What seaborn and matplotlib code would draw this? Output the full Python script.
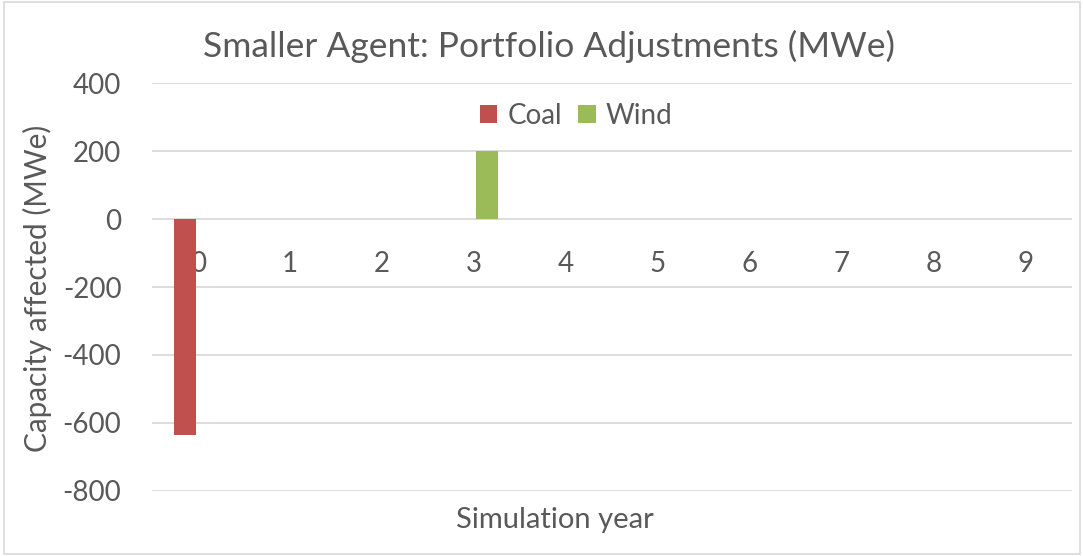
import matplotlib
matplotlib.use("Agg")
import matplotlib.pyplot as plt
import seaborn as sns
import pandas as pd
from matplotlib.patches import Rectangle, Patch

years = [0, 1, 2, 3, 4, 5, 6, 7, 8, 9]
coal = [-635, 0, 0, 0, 0, 0, 0, 0, 0, 0]
wind = [0, 0, 0, 200, 0, 0, 0, 0, 0, 0]
series_names = ["Coal", "Wind"]
colors = ["#C0504D", "#9BBB59"]
y_ticks = [-800, -600, -400, -200, 0, 200, 400]

df = pd.DataFrame({
    "year": [str(y) for y in years] * 2,
    "value": coal + wind,
    "source": ["Coal"] * len(years) + ["Wind"] * len(years),
})

sns.set_theme(style="white")
plt.rcParams["font.family"] = ["Lato", "DejaVu Sans"]
text_color = "#595959"

fig = plt.figure(figsize=(10.83, 5.56), dpi=100)
ax = fig.add_axes([0.1404, 0.1174, 0.849, 0.7328])

sns.barplot(data=df, x="year", y="value", hue="source", palette=colors,
            saturation=1, width=0.56, gap=0.15, linewidth=0, ax=ax, legend=False)

ax.set_ylim(-800, 400)
ax.set_xlim(-0.5, 9.5)
ax.set_yticks(y_ticks)
ax.set_yticklabels([str(t) for t in y_ticks])
ax.yaxis.grid(True, color="#d9d9d9", linewidth=1.3)
ax.set_axisbelow(True)
for s in ax.spines.values():
    s.set_visible(False)
ax.spines["bottom"].set_position(("data", 0))
ax.tick_params(axis="x", length=0, pad=23, labelsize=20, colors=text_color)
ax.tick_params(axis="y", length=0, pad=22, labelsize=20, colors=text_color)
ax.set_xlabel("")
ax.set_ylabel("")

fig.text(0.035, 0.482, "Capacity affected (MWe)", rotation=90, ha="center", va="center",
         fontsize=21.4, color=text_color)
fig.text(0.5125, 0.065, "Simulation year", ha="center", va="center",
         fontsize=21, color=text_color)
fig.text(0.507, 0.916, "Smaller Agent: Portfolio Adjustments (MWe)", ha="center", va="center",
         fontsize=25.5, color=text_color)

handles = [Patch(facecolor=c, edgecolor="none", label=n) for c, n in zip(colors, series_names)]
leg = fig.legend(handles=handles, loc="center", bbox_to_anchor=(0.532, 0.791), ncol=2,
                 frameon=False, fontsize=20, handlelength=0.62, handleheight=0.62,
                 handletextpad=0.35, columnspacing=0.6)
for t in leg.get_texts():
    t.set_color(text_color)

fig.patches.append(Rectangle((0.004, 0.003), 0.993, 0.993, transform=fig.transFigure,
                             fill=False, edgecolor="#d9d9d9", linewidth=1.2))

fig.savefig("out.png", dpi=100)
